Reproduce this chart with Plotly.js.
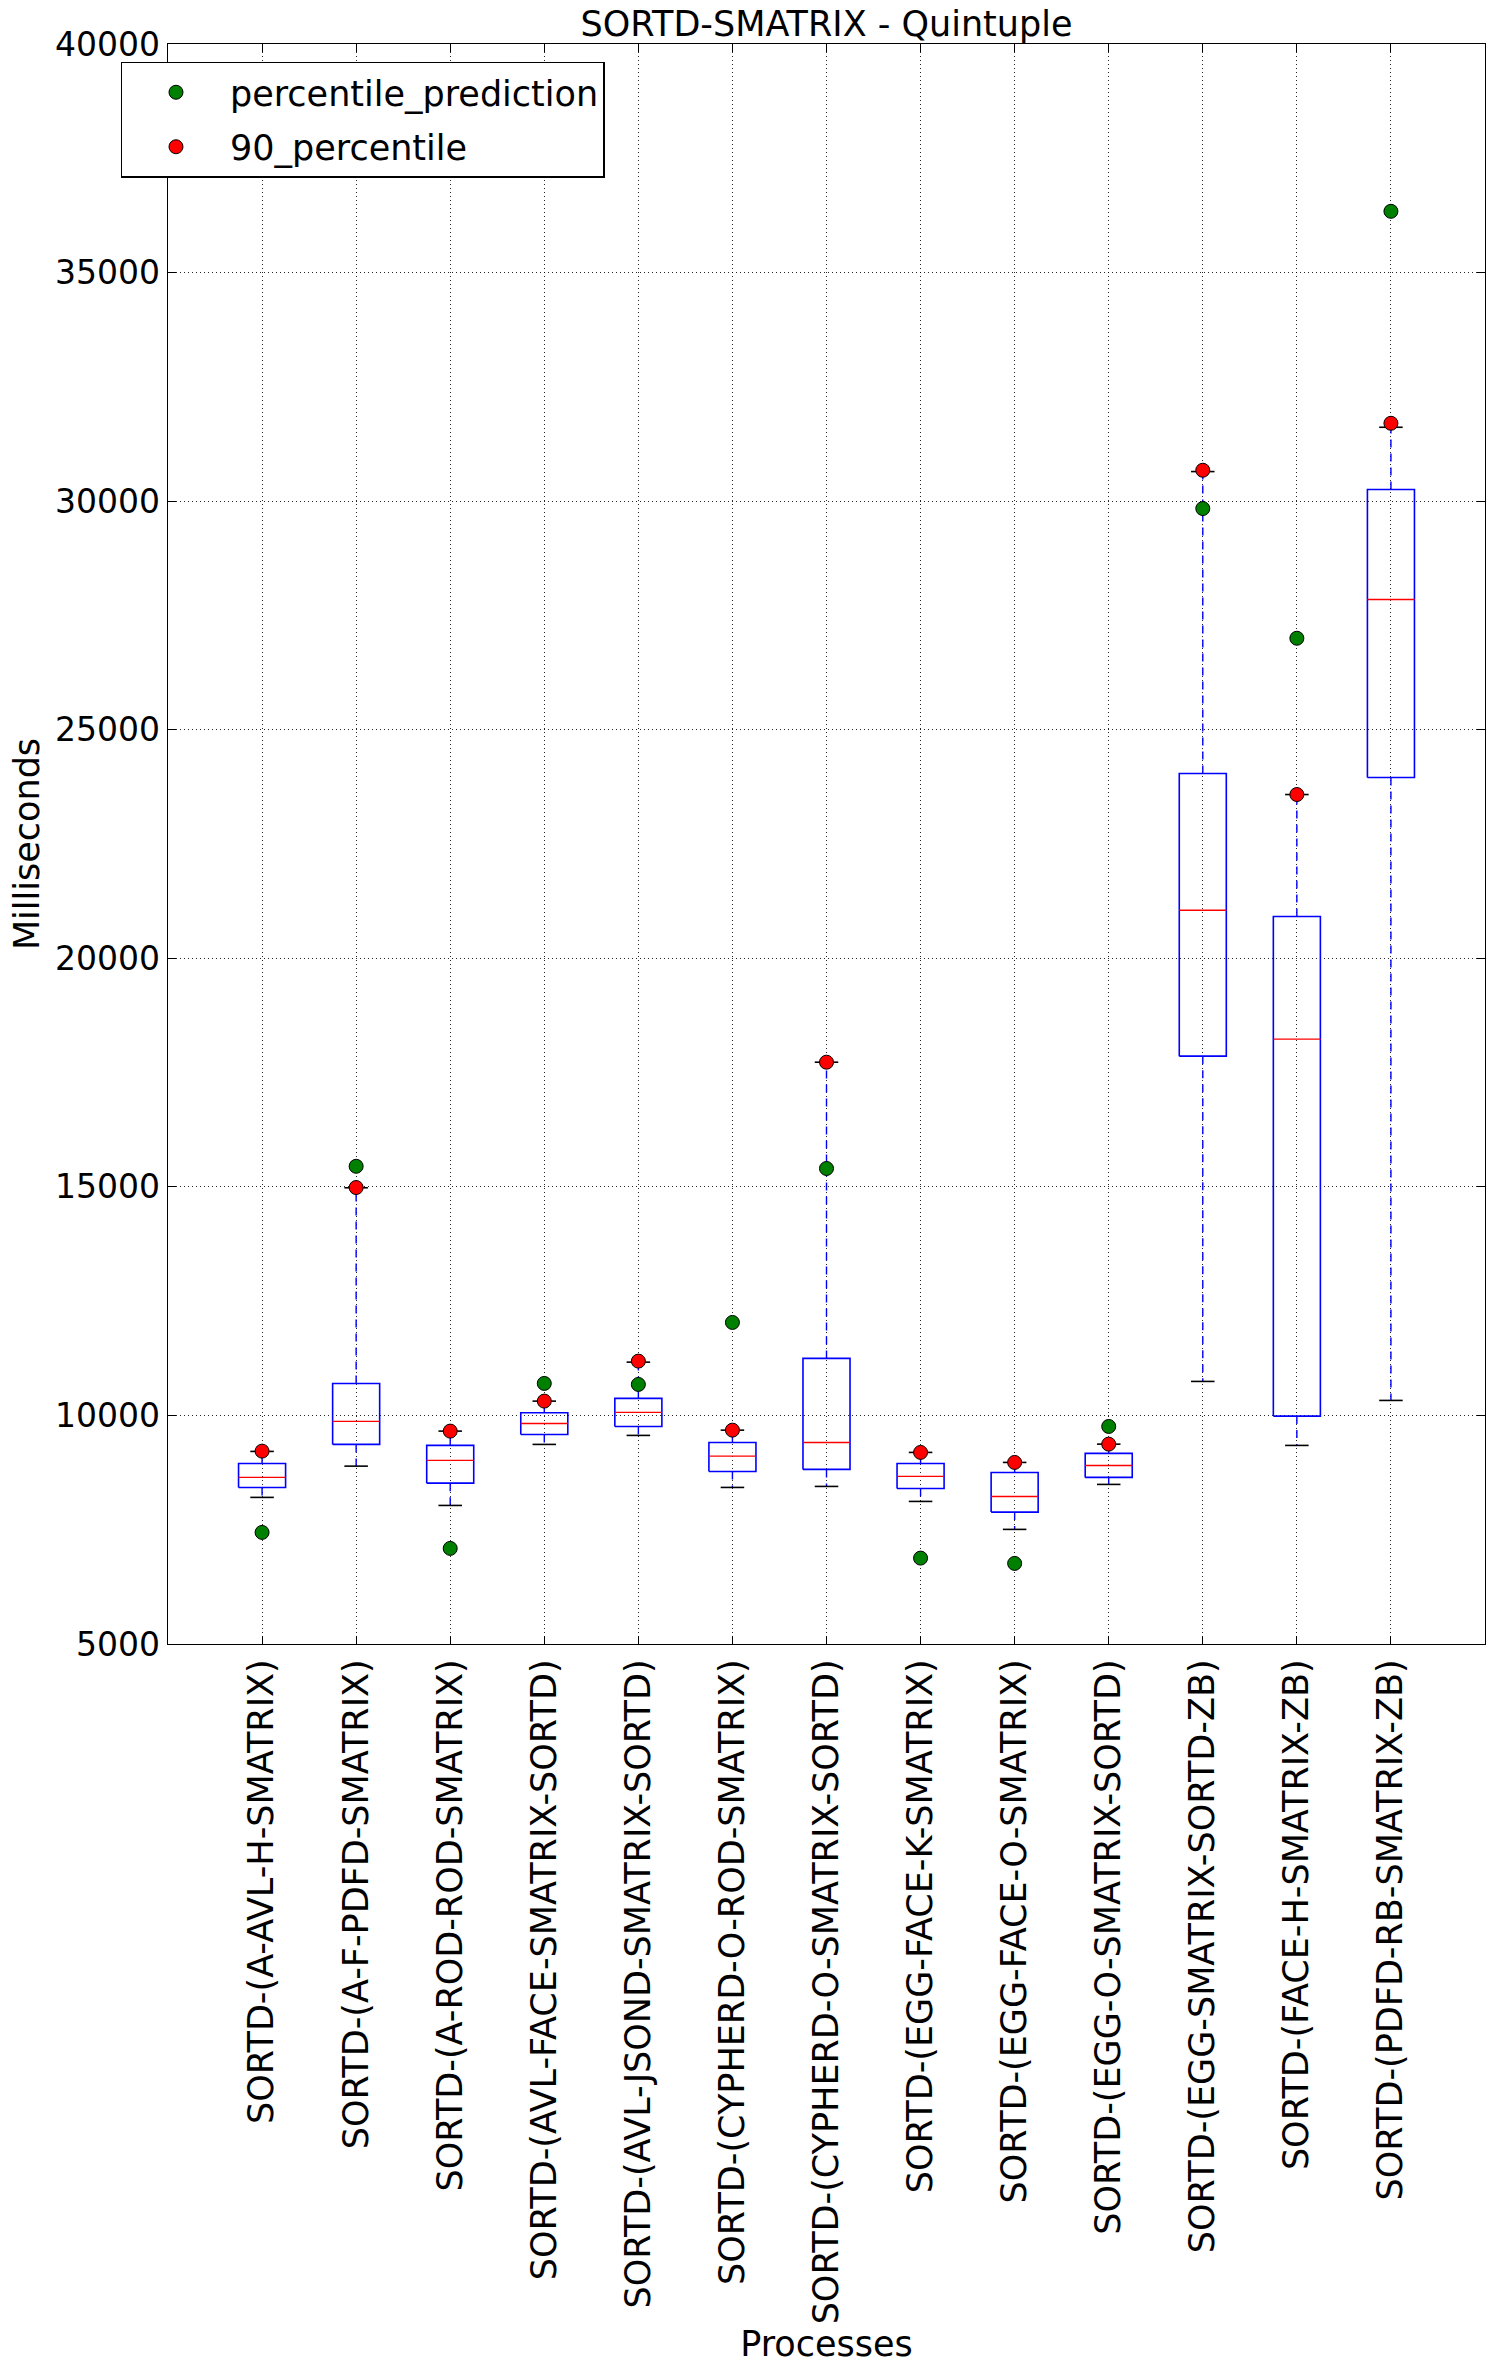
<!DOCTYPE html>
<html>
<head>
<meta charset="utf-8">
<script src="https://cdn.plot.ly/plotly-3.0.1.min.js"></script>
<style>html,body{margin:0;padding:0;background:#fff;}</style>
</head>
<body>
<div id="chart" style="width:1494px;height:2368px;"></div>
<script>
// ---- Data ----
const categories = [
  "SORTD-(A-AVL-H-SMATRIX)",
  "SORTD-(A-F-PDFD-SMATRIX)",
  "SORTD-(A-ROD-ROD-SMATRIX)",
  "SORTD-(AVL-FACE-SMATRIX-SORTD)",
  "SORTD-(AVL-JSOND-SMATRIX-SORTD)",
  "SORTD-(CYPHERD-O-ROD-SMATRIX)",
  "SORTD-(CYPHERD-O-SMATRIX-SORTD)",
  "SORTD-(EGG-FACE-K-SMATRIX)",
  "SORTD-(EGG-FACE-O-SMATRIX)",
  "SORTD-(EGG-O-SMATRIX-SORTD)",
  "SORTD-(EGG-SMATRIX-SORTD-ZB)",
  "SORTD-(FACE-H-SMATRIX-ZB)",
  "SORTD-(PDFD-RB-SMATRIX-ZB)"
];
const whiskerLow  = [8207, 8891, 8031, 9366, 9563, 8425, 8447, 8119, 7507, 8491, 10744, 9344, 10328];
const q1          = [8425, 9366, 8519, 9584, 9759, 8775, 8819, 8403, 7885, 8644, 17859, 9985, 23954];
const median      = [8644, 9869, 9016, 9825, 10066, 9110, 9409, 8666, 8228, 8906, 21052, 18231, 27847];
const q3          = [8950, 10700, 9344, 10057, 10372, 9409, 11247, 8950, 8753, 9169, 24042, 20914, 30254];
const whiskerHigh = [9213, 14980, 9657, 10313, 11166, 9678, 17727, 9191, 8972, 9372, 30647, 23582, 31616];
const percentile90 = [9219, 14985, 9657, 10313, 11188, 9678, 17727, 9191, 8972, 9372, 30676, 23582, 31703];
const percentilePrediction = [7441, 15450, 7091, 10700, 10678, 12034, 15402, 6879, 6763, 9759, 29838, 27001, 36340];
const yTickValues = [5000, 10000, 15000, 20000, 25000, 30000, 35000, 40000];

// ---- Geometry helpers (box width in category units) ----
const BOX_HALF = 0.25;
const CAP_HALF = 0.125;
const xs = categories.map((_, i) => i);

function build(fn) {
  const x = [], y = [];
  xs.forEach(i => { const r = fn(i); x.push(...r[0]); y.push(...r[1]); });
  return {x, y};
}

const boxes = build(i => [
  [i - BOX_HALF, i + BOX_HALF, i + BOX_HALF, i - BOX_HALF, i - BOX_HALF, null],
  [q1[i], q1[i], q3[i], q3[i], q1[i], null]
]);
const whiskers = build(i => [
  [i, i, null, i, i, null],
  [q3[i], whiskerHigh[i], null, q1[i], whiskerLow[i], null]
]);
const caps = build(i => [
  [i - CAP_HALF, i + CAP_HALF, null, i - CAP_HALF, i + CAP_HALF, null],
  [whiskerHigh[i], whiskerHigh[i], null, whiskerLow[i], whiskerLow[i], null]
]);
const medians = build(i => [
  [i - BOX_HALF, i + BOX_HALF, null],
  [median[i], median[i], null]
]);

const traces = [
  {type:'scatter', mode:'lines', x:whiskers.x, y:whiskers.y, showlegend:false, hoverinfo:'skip',
   line:{color:'#0000ff', width:1.4, dash:'8px,6px'}},
  {type:'scatter', mode:'lines', x:boxes.x, y:boxes.y, showlegend:false, hoverinfo:'skip',
   line:{color:'#0000ff', width:1.6}},
  {type:'scatter', mode:'lines', x:caps.x, y:caps.y, showlegend:false, hoverinfo:'skip',
   line:{color:'#000000', width:1.6}},
  {type:'scatter', mode:'lines', x:medians.x, y:medians.y, showlegend:false, hoverinfo:'skip',
   line:{color:'#ff0000', width:1.4}},
  {type:'scatter', mode:'markers', name:'percentile_prediction', legendgroup:'g1', x:xs, y:percentilePrediction,
   marker:{color:'#008000', size:14, line:{color:'#000', width:1}}},
  {type:'scatter', mode:'markers', name:'90_percentile', legendgroup:'g2', x:xs, y:percentile90,
   marker:{color:'#ff0000', size:14, line:{color:'#000', width:1}}}
];

const FONT = 'DejaVu Sans';
const axisCommon = {
  showgrid:true, gridcolor:'rgba(0,0,0,0.85)', gridwidth:1, griddash:'1px,3px',
  zeroline:false, showline:true, linecolor:'#000', linewidth:1.4, mirror:'ticks',
  ticks:'inside', ticklen:8, tickwidth:1, tickcolor:'#000'
};

const layout = {
  width:1494, height:2368,
  margin:{l:168, r:9, t:44, b:724, pad:0},
  paper_bgcolor:'#fff', plot_bgcolor:'#fff',
  font:{family:FONT, size:35, color:'#000'},
  title:{text:'SORTD-SMATRIX - Quintuple', font:{family:FONT, size:35, color:'#000'},
         x:0.5, xref:'paper', xanchor:'center', y:1 - 24/2368, yref:'container', yanchor:'middle'},
  xaxis:Object.assign({}, axisCommon, {
    range:[-1, 13], tickmode:'array', tickvals:xs, ticktext:categories, tickangle:-90,
    tickfont:{family:FONT, size:35, color:'#000'},
    title:{text:'Processes', font:{family:FONT, size:35, color:'#000'}, standoff:8}
  }),
  yaxis:Object.assign({}, axisCommon, {
    range:[5000, 40000], tickmode:'array', tickvals:yTickValues, tickformat:'d',
    tickfont:{family:FONT, size:33, color:'#000'},
    title:{text:'Milliseconds', font:{family:FONT, size:35, color:'#000'}, standoff:4}
  }),
  showlegend:true,
  legend:{x:-0.036, y:0.989, xanchor:'left', yanchor:'top', bgcolor:'#fff',
          bordercolor:'#000', borderwidth:1.4, itemwidth:98,
          traceorder:'grouped', tracegroupgap:6,
          font:{family:FONT, size:35, color:'#000'}}
};

Plotly.newPlot('chart', traces, layout, {staticPlot:true, displayModeBar:false});
</script>
</body>
</html>
